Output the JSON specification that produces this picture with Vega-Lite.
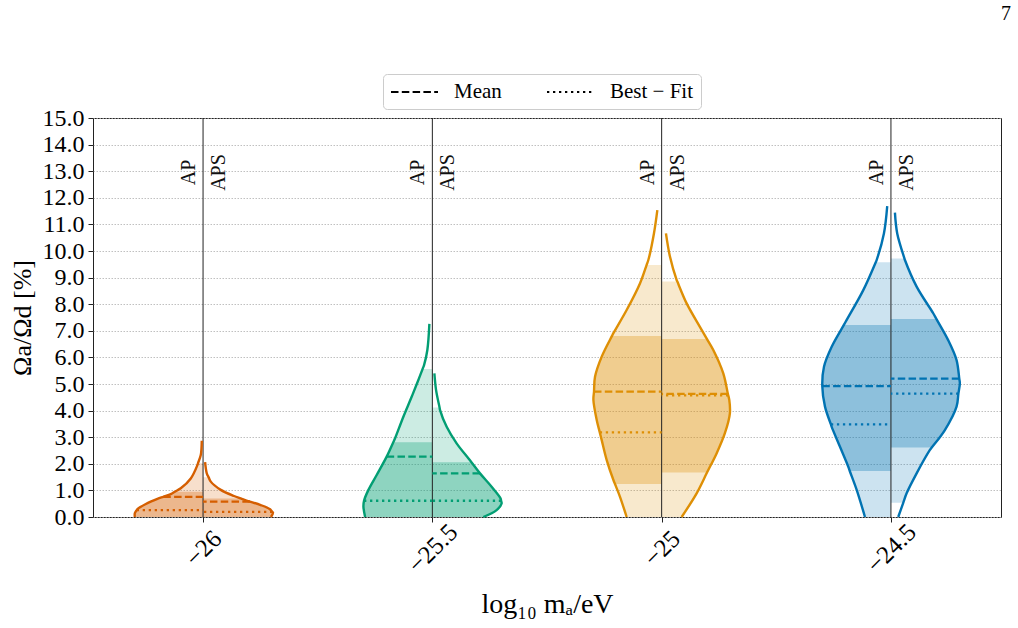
{
  "$schema": "https://vega.github.io/schema/vega-lite/v6.json",
  "width": 908,
  "height": 399,
  "autosize": "none",
  "padding": {"left": 93, "top": 118, "right": 17, "bottom": 111},
  "background": "white",
  "title": {"text": "7", "anchor": "end", "orient": "top", "frame": "group", "font": "Liberation Serif", "fontSize": 20, "fontWeight": "normal", "color": "#000", "offset": 50, "dx": 10},
  "config": {
    "font": "Liberation Serif",
    "view": {"stroke": "#222", "strokeWidth": 1},
    "axis": {"labelFont": "Liberation Serif", "titleFont": "Liberation Serif", "labelColor": "#000", "titleColor": "#000", "tickColor": "#222", "domain": false, "titleFontWeight": "normal", "tickSize": 5, "labelOverlap": false},
    "axisY": {"labelFontSize": 24, "labelPadding": 4, "grid": true, "gridColor": "#b0b0b0", "gridDash": [1.5, 1.5], "gridWidth": 0.8, "titleFontSize": 26, "titleX": -71, "titleBaseline": "middle"},
    "axisX": {"labelAngle": -45, "labelAlign": "center", "labelBaseline": "middle", "labelFontSize": 25, "labelPadding": 26, "grid": false, "labelFlush": false, "titleFontSize": 28, "titleY": 95, "titleBaseline": "alphabetic"}
  },
  "datasets": {
    "outline": [
      {"g": "-26 AP", "m": -26, "b": 2, "y": 0, "x": -26.1488},
      {"g": "-26 AP", "m": -26, "b": 2, "y": 0.14, "x": -26.1488},
      {"g": "-26 AP", "m": -26, "b": 2, "y": 0.26, "x": -26.1447},
      {"g": "-26 AP", "m": -26, "b": 2, "y": 0.30, "x": -26.1431},
      {"g": "-26 AP", "m": -26, "b": 2, "y": 0.49, "x": -26.1248},
      {"g": "-26 AP", "m": -26, "b": 2, "y": 0.68, "x": -26.0996},
      {"g": "-26 AP", "m": -26, "b": 2, "y": 0.76, "x": -26.0867},
      {"g": "-26 AP", "m": -26, "b": 2, "y": 0.86, "x": -26.0704},
      {"g": "-26 AP", "m": -26, "b": 2, "y": 0.95, "x": -26.0614},
      {"g": "-26 AP", "m": -26, "b": 1, "y": 1.08, "x": -26.0486},
      {"g": "-26 AP", "m": -26, "b": 1, "y": 1.45, "x": -26.0268},
      {"g": "-26 AP", "m": -26, "b": 1, "y": 1.95, "x": -26.0124},
      {"g": "-26 AP", "m": -26, "b": 1, "y": 2.02, "x": -26.0111},
      {"g": "-26 AP", "m": -26, "b": 0, "y": 2.33, "x": -26.0050},
      {"g": "-26 AP", "m": -26, "b": 0, "y": 2.87, "x": -26.0028},

      {"g": "-26 APS", "m": -26, "b": 2, "y": 0, "x": -25.8519},
      {"g": "-26 APS", "m": -26, "b": 2, "y": 0.16, "x": -25.8475},
      {"g": "-26 APS", "m": -26, "b": 2, "y": 0.19, "x": -25.8490},
      {"g": "-26 APS", "m": -26, "b": 2, "y": 0.30, "x": -25.8547},
      {"g": "-26 APS", "m": -26, "b": 2, "y": 0.45, "x": -25.8743},
      {"g": "-26 APS", "m": -26, "b": 2, "y": 0.58, "x": -25.8980},
      {"g": "-26 APS", "m": -26, "b": 2, "y": 0.61, "x": -25.9035},
      {"g": "-26 APS", "m": -26, "b": 2, "y": 0.70, "x": -25.9179},
      {"g": "-26 APS", "m": -26, "b": 1, "y": 0.79, "x": -25.9325},
      {"g": "-26 APS", "m": -26, "b": 1, "y": 1.02, "x": -25.9614},
      {"g": "-26 APS", "m": -26, "b": 1, "y": 1.33, "x": -25.9832},
      {"g": "-26 APS", "m": -26, "b": 1, "y": 1.49, "x": -25.9878},
      {"g": "-26 APS", "m": -26, "b": 0, "y": 1.64, "x": -25.9919},
      {"g": "-26 APS", "m": -26, "b": 0, "y": 2.06, "x": -25.9956},

      {"g": "-25.5 AP", "m": -25.5, "b": 2, "y": 0, "x": -25.6466},
      {"g": "-25.5 AP", "m": -25.5, "b": 2, "y": 0.39, "x": -25.6503},
      {"g": "-25.5 AP", "m": -25.5, "b": 2, "y": 0.61, "x": -25.6490},
      {"g": "-25.5 AP", "m": -25.5, "b": 2, "y": 1.02, "x": -25.6394},
      {"g": "-25.5 AP", "m": -25.5, "b": 2, "y": 1.58, "x": -25.6214},
      {"g": "-25.5 AP", "m": -25.5, "b": 2, "y": 2.27, "x": -25.5996},
      {"g": "-25.5 AP", "m": -25.5, "b": 2, "y": 2.81, "x": -25.5852},
      {"g": "-25.5 AP", "m": -25.5, "b": 1, "y": 2.96, "x": -25.5813},
      {"g": "-25.5 AP", "m": -25.5, "b": 1, "y": 3.77, "x": -25.5632},
      {"g": "-25.5 AP", "m": -25.5, "b": 1, "y": 4.52, "x": -25.5451},
      {"g": "-25.5 AP", "m": -25.5, "b": 1, "y": 5.15, "x": -25.5305},
      {"g": "-25.5 AP", "m": -25.5, "b": 1, "y": 5.56, "x": -25.5214},
      {"g": "-25.5 AP", "m": -25.5, "b": 0, "y": 5.71, "x": -25.5181},
      {"g": "-25.5 AP", "m": -25.5, "b": 0, "y": 6.28, "x": -25.5109},
      {"g": "-25.5 AP", "m": -25.5, "b": 0, "y": 7.26, "x": -25.5065},

      {"g": "-25.5 APS", "m": -25.5, "b": 2, "y": 0, "x": -25.3889},
      {"g": "-25.5 APS", "m": -25.5, "b": 2, "y": 0.26, "x": -25.3599},
      {"g": "-25.5 APS", "m": -25.5, "b": 2, "y": 0.51, "x": -25.3490},
      {"g": "-25.5 APS", "m": -25.5, "b": 2, "y": 0.61, "x": -25.3501},
      {"g": "-25.5 APS", "m": -25.5, "b": 2, "y": 0.70, "x": -25.3512},
      {"g": "-25.5 APS", "m": -25.5, "b": 2, "y": 1.14, "x": -25.3708},
      {"g": "-25.5 APS", "m": -25.5, "b": 2, "y": 1.64, "x": -25.3961},
      {"g": "-25.5 APS", "m": -25.5, "b": 2, "y": 2.06, "x": -25.4148},
      {"g": "-25.5 APS", "m": -25.5, "b": 1, "y": 2.21, "x": -25.4216},
      {"g": "-25.5 APS", "m": -25.5, "b": 1, "y": 2.77, "x": -25.4471},
      {"g": "-25.5 APS", "m": -25.5, "b": 1, "y": 3.39, "x": -25.4688},
      {"g": "-25.5 APS", "m": -25.5, "b": 1, "y": 4.02, "x": -25.4832},
      {"g": "-25.5 APS", "m": -25.5, "b": 1, "y": 4.12, "x": -25.4843},
      {"g": "-25.5 APS", "m": -25.5, "b": 0, "y": 4.77, "x": -25.4919},
      {"g": "-25.5 APS", "m": -25.5, "b": 0, "y": 5.40, "x": -25.4956},

      {"g": "-25 AP", "m": -25, "b": 1, "y": 0, "x": -25.0763},
      {"g": "-25 AP", "m": -25, "b": 1, "y": 0.76, "x": -25.0908},
      {"g": "-25 AP", "m": -25, "b": 2, "y": 1.24, "x": -25.1017},
      {"g": "-25 AP", "m": -25, "b": 2, "y": 1.39, "x": -25.1052},
      {"g": "-25 AP", "m": -25, "b": 2, "y": 2.14, "x": -25.1198},
      {"g": "-25 AP", "m": -25, "b": 2, "y": 2.89, "x": -25.1307},
      {"g": "-25 AP", "m": -25, "b": 2, "y": 3.18, "x": -25.1349},
      {"g": "-25 AP", "m": -25, "b": 2, "y": 3.65, "x": -25.1416},
      {"g": "-25 AP", "m": -25, "b": 2, "y": 4.40, "x": -25.1488},
      {"g": "-25 AP", "m": -25, "b": 2, "y": 4.71, "x": -25.1475},
      {"g": "-25 AP", "m": -25, "b": 2, "y": 5.27, "x": -25.1453},
      {"g": "-25 AP", "m": -25, "b": 2, "y": 6.03, "x": -25.1307},
      {"g": "-25 AP", "m": -25, "b": 2, "y": 6.80, "x": -25.1085},
      {"g": "-25 AP", "m": -25, "b": 1, "y": 6.91, "x": -25.1052},
      {"g": "-25 AP", "m": -25, "b": 1, "y": 7.78, "x": -25.0763},
      {"g": "-25 AP", "m": -25, "b": 1, "y": 8.78, "x": -25.0473},
      {"g": "-25 AP", "m": -25, "b": 1, "y": 9.47, "x": -25.0329},
      {"g": "-25 AP", "m": -25, "b": 0, "y": 9.66, "x": -25.0290},
      {"g": "-25 AP", "m": -25, "b": 0, "y": 10.66, "x": -25.0168},
      {"g": "-25 AP", "m": -25, "b": 0, "y": 11.54, "x": -25.0094},

      {"g": "-25 APS", "m": -25, "b": 1, "y": 0, "x": -24.9564},
      {"g": "-25 APS", "m": -25, "b": 1, "y": 0.89, "x": -24.9237},
      {"g": "-25 APS", "m": -25, "b": 2, "y": 1.67, "x": -24.9011},
      {"g": "-25 APS", "m": -25, "b": 2, "y": 2.39, "x": -24.8802},
      {"g": "-25 APS", "m": -25, "b": 2, "y": 3.15, "x": -24.8621},
      {"g": "-25 APS", "m": -25, "b": 2, "y": 3.90, "x": -24.8512},
      {"g": "-25 APS", "m": -25, "b": 2, "y": 4.40, "x": -24.8525},
      {"g": "-25 APS", "m": -25, "b": 2, "y": 4.57, "x": -24.8547},
      {"g": "-25 APS", "m": -25, "b": 2, "y": 4.63, "x": -24.8556},
      {"g": "-25 APS", "m": -25, "b": 2, "y": 5.40, "x": -24.8656},
      {"g": "-25 APS", "m": -25, "b": 2, "y": 6.28, "x": -24.8874},
      {"g": "-25 APS", "m": -25, "b": 2, "y": 6.69, "x": -24.9011},
      {"g": "-25 APS", "m": -25, "b": 1, "y": 7.15, "x": -24.9166},
      {"g": "-25 APS", "m": -25, "b": 1, "y": 8.03, "x": -24.9455},
      {"g": "-25 APS", "m": -25, "b": 1, "y": 8.85, "x": -24.9658},
      {"g": "-25 APS", "m": -25, "b": 0, "y": 8.91, "x": -24.9673},
      {"g": "-25 APS", "m": -25, "b": 0, "y": 9.79, "x": -24.9819},
      {"g": "-25 APS", "m": -25, "b": 0, "y": 10.66, "x": -24.9906},

      {"g": "-24.5 AP", "m": -24.5, "b": 1, "y": 0, "x": -24.5566},
      {"g": "-24.5 AP", "m": -24.5, "b": 1, "y": 1.02, "x": -24.5747},
      {"g": "-24.5 AP", "m": -24.5, "b": 2, "y": 1.73, "x": -24.5898},
      {"g": "-24.5 AP", "m": -24.5, "b": 2, "y": 1.89, "x": -24.5930},
      {"g": "-24.5 AP", "m": -24.5, "b": 2, "y": 2.64, "x": -24.6111},
      {"g": "-24.5 AP", "m": -24.5, "b": 2, "y": 3.39, "x": -24.6292},
      {"g": "-24.5 AP", "m": -24.5, "b": 2, "y": 3.48, "x": -24.6309},
      {"g": "-24.5 AP", "m": -24.5, "b": 2, "y": 4.15, "x": -24.6438},
      {"g": "-24.5 AP", "m": -24.5, "b": 2, "y": 4.92, "x": -24.6497},
      {"g": "-24.5 AP", "m": -24.5, "b": 2, "y": 5.65, "x": -24.6460},
      {"g": "-24.5 AP", "m": -24.5, "b": 2, "y": 6.40, "x": -24.6292},
      {"g": "-24.5 AP", "m": -24.5, "b": 2, "y": 7.22, "x": -24.6026},
      {"g": "-24.5 AP", "m": -24.5, "b": 1, "y": 7.41, "x": -24.5965},
      {"g": "-24.5 AP", "m": -24.5, "b": 1, "y": 8.53, "x": -24.5603},
      {"g": "-24.5 AP", "m": -24.5, "b": 1, "y": 9.58, "x": -24.5331},
      {"g": "-24.5 AP", "m": -24.5, "b": 0, "y": 9.66, "x": -24.5312},
      {"g": "-24.5 AP", "m": -24.5, "b": 0, "y": 10.66, "x": -24.5153},
      {"g": "-24.5 AP", "m": -24.5, "b": 0, "y": 11.69, "x": -24.5081},

      {"g": "-24.5 APS", "m": -24.5, "b": 0, "y": 0, "x": -24.4841},
      {"g": "-24.5 APS", "m": -24.5, "b": 1, "y": 0.54, "x": -24.4730},
      {"g": "-24.5 APS", "m": -24.5, "b": 1, "y": 0.89, "x": -24.4658},
      {"g": "-24.5 APS", "m": -24.5, "b": 1, "y": 1.64, "x": -24.4440},
      {"g": "-24.5 APS", "m": -24.5, "b": 1, "y": 2.52, "x": -24.4150},
      {"g": "-24.5 APS", "m": -24.5, "b": 2, "y": 2.61, "x": -24.4111},
      {"g": "-24.5 APS", "m": -24.5, "b": 2, "y": 3.27, "x": -24.3824},
      {"g": "-24.5 APS", "m": -24.5, "b": 2, "y": 4.15, "x": -24.3569},
      {"g": "-24.5 APS", "m": -24.5, "b": 2, "y": 4.64, "x": -24.3529},
      {"g": "-24.5 APS", "m": -24.5, "b": 2, "y": 5.03, "x": -24.3497},
      {"g": "-24.5 APS", "m": -24.5, "b": 2, "y": 5.20, "x": -24.3510},
      {"g": "-24.5 APS", "m": -24.5, "b": 2, "y": 5.90, "x": -24.3569},
      {"g": "-24.5 APS", "m": -24.5, "b": 2, "y": 6.65, "x": -24.3752},
      {"g": "-24.5 APS", "m": -24.5, "b": 2, "y": 7.44, "x": -24.4007},
      {"g": "-24.5 APS", "m": -24.5, "b": 1, "y": 7.66, "x": -24.4078},
      {"g": "-24.5 APS", "m": -24.5, "b": 1, "y": 8.66, "x": -24.4440},
      {"g": "-24.5 APS", "m": -24.5, "b": 1, "y": 9.66, "x": -24.4695},
      {"g": "-24.5 APS", "m": -24.5, "b": 1, "y": 9.72, "x": -24.4706},
      {"g": "-24.5 APS", "m": -24.5, "b": 0, "y": 10.66, "x": -24.4863},
      {"g": "-24.5 APS", "m": -24.5, "b": 0, "y": 11.44, "x": -24.4913}
    ],
    "halves": [
      {"m": -26, "side": "AP"}, {"m": -26, "side": "APS"},
      {"m": -25.5, "side": "AP"}, {"m": -25.5, "side": "APS"},
      {"m": -25, "side": "AP"}, {"m": -25, "side": "APS"},
      {"m": -24.5, "side": "AP"}, {"m": -24.5, "side": "APS"}
    ],
    "stats": [
      {"g": "-26 AP", "m": -26, "stat": "Mean", "y": 0.76, "x": -26.0867},
      {"g": "-26 AP", "m": -26, "stat": "Best − Fit", "y": 0.26, "x": -26.1447},
      {"g": "-26 APS", "m": -26, "stat": "Mean", "y": 0.58, "x": -25.8980},
      {"g": "-26 APS", "m": -26, "stat": "Best − Fit", "y": 0.19, "x": -25.8490},
      {"g": "-25.5 AP", "m": -25.5, "stat": "Mean", "y": 2.27, "x": -25.5996},
      {"g": "-25.5 AP", "m": -25.5, "stat": "Best − Fit", "y": 0.61, "x": -25.6490},
      {"g": "-25.5 APS", "m": -25.5, "stat": "Mean", "y": 1.64, "x": -25.3961},
      {"g": "-25.5 APS", "m": -25.5, "stat": "Best − Fit", "y": 0.61, "x": -25.3501},
      {"g": "-25 AP", "m": -25, "stat": "Mean", "y": 4.71, "x": -25.1475},
      {"g": "-25 AP", "m": -25, "stat": "Best − Fit", "y": 3.18, "x": -25.1349},
      {"g": "-25 APS", "m": -25, "stat": "Mean", "y": 4.63, "x": -24.8556},
      {"g": "-25 APS", "m": -25, "stat": "Best − Fit", "y": 4.57, "x": -24.8547},
      {"g": "-24.5 AP", "m": -24.5, "stat": "Mean", "y": 4.92, "x": -24.6497},
      {"g": "-24.5 AP", "m": -24.5, "stat": "Best − Fit", "y": 3.48, "x": -24.6309},
      {"g": "-24.5 APS", "m": -24.5, "stat": "Mean", "y": 5.20, "x": -24.3510},
      {"g": "-24.5 APS", "m": -24.5, "stat": "Best − Fit", "y": 4.64, "x": -24.3529}
    ],
    "centers": [{"m": -26}, {"m": -25.5}, {"m": -25}, {"m": -24.5}]
  },
  "layer": [
    {
      "data": {"name": "outline"},
      "transform": [{"filter": "datum.b >= 1"}],
      "mark": {"type": "area", "orient": "horizontal", "interpolate": "catmull-rom", "opacity": 0.2},
      "encoding": {
        "y": {"field": "y", "type": "quantitative", "scale": {"domain": [0, 15]},
          "axis": {"values": [0,1,2,3,4,5,6,7,8,9,10,11,12,13,14,15], "format": ".1f", "title": "Ωa/Ωd [%]"}},
        "x": {"field": "x", "type": "quantitative", "stack": null, "scale": {"domain": [-26.24, -24.26]},
          "axis": {"values": [-26, -25.5, -25, -24.5], "format": "~g", "title": "log₁₀ mₐ/eV"}},
        "x2": {"field": "m"},
        "detail": {"field": "g", "type": "nominal"},
        "color": {"field": "m", "type": "nominal", "scale": {"domain": [-26, -25.5, -25, -24.5], "range": ["#d55e00", "#029e73", "#de8f05", "#0173b2"]}, "legend": null}
      }
    },
    {
      "data": {"name": "outline"},
      "transform": [{"filter": "datum.b == 2"}],
      "mark": {"type": "area", "orient": "horizontal", "interpolate": "catmull-rom", "opacity": 0.31},
      "encoding": {
        "y": {"field": "y", "type": "quantitative", "scale": {"domain": [0, 15]},
          "axis": {"values": [0,1,2,3,4,5,6,7,8,9,10,11,12,13,14,15], "format": ".1f", "title": "Ωa/Ωd [%]"}},
        "x": {"field": "x", "type": "quantitative", "stack": null, "scale": {"domain": [-26.24, -24.26]},
          "axis": {"values": [-26, -25.5, -25, -24.5], "format": "~g", "title": "log₁₀ mₐ/eV"}},
        "x2": {"field": "m"},
        "detail": {"field": "g", "type": "nominal"},
        "color": {"field": "m", "type": "nominal", "scale": {"domain": [-26, -25.5, -25, -24.5], "range": ["#d55e00", "#029e73", "#de8f05", "#0173b2"]}, "legend": null}
      }
    },
    {
      "data": {"name": "centers"},
      "mark": {"type": "rule", "color": "#222", "strokeWidth": 1},
      "encoding": {
        "x": {"field": "m", "type": "quantitative", "scale": {"domain": [-26.24, -24.26]},
          "axis": {"values": [-26, -25.5, -25, -24.5], "format": "~g", "title": "log₁₀ mₐ/eV"}}
      }
    },
    {
      "data": {"name": "stats"},
      "mark": {"type": "rule", "strokeWidth": 2.3, "strokeCap": "butt"},
      "encoding": {
        "y": {"field": "y", "type": "quantitative", "scale": {"domain": [0, 15]},
          "axis": {"values": [0,1,2,3,4,5,6,7,8,9,10,11,12,13,14,15], "format": ".1f", "title": "Ωa/Ωd [%]"}},
        "x": {"field": "x", "type": "quantitative", "scale": {"domain": [-26.24, -24.26]},
          "axis": {"values": [-26, -25.5, -25, -24.5], "format": "~g", "title": "log₁₀ mₐ/eV"}},
        "x2": {"field": "m"},
        "color": {"field": "m", "type": "nominal", "scale": {"domain": [-26, -25.5, -25, -24.5], "range": ["#d55e00", "#029e73", "#de8f05", "#0173b2"]}, "legend": null},
        "strokeDash": {"field": "stat", "type": "nominal",
          "scale": {"domain": ["Mean", "Best − Fit"], "range": [[7.5, 3.3], [2.3, 3.7]]},
          "legend": {"orient": "none", "legendX": 290, "legendY": -44, "direction": "horizontal", "title": null,
            "symbolType": "M-1,0H3.7", "symbolSize": 400, "symbolStrokeWidth": 2, "symbolStrokeColor": "#000", "symbolFillColor": "transparent",
            "labelFont": "Liberation Serif", "labelFontSize": 21, "labelColor": "#000", "labelOffset": 42, "columnPadding": 41,
            "padding": 7, "strokeColor": "#cccccc", "cornerRadius": 4, "fillColor": "white"}}
      }
    },
    {
      "data": {"name": "outline"},
      "mark": {"type": "line", "interpolate": "catmull-rom", "strokeWidth": 2.4},
      "encoding": {
        "y": {"field": "y", "type": "quantitative", "scale": {"domain": [0, 15]},
          "axis": {"values": [0,1,2,3,4,5,6,7,8,9,10,11,12,13,14,15], "format": ".1f", "title": "Ωa/Ωd [%]"}},
        "x": {"field": "x", "type": "quantitative", "scale": {"domain": [-26.24, -24.26]},
          "axis": {"values": [-26, -25.5, -25, -24.5], "format": "~g", "title": "log₁₀ mₐ/eV"}},
        "order": {"field": "y", "type": "quantitative"},
        "detail": {"field": "g", "type": "nominal"},
        "color": {"field": "m", "type": "nominal", "scale": {"domain": [-26, -25.5, -25, -24.5], "range": ["#d55e00", "#029e73", "#de8f05", "#0173b2"]}, "legend": null}
      }
    },
    {
      "data": {"name": "halves"},
      "transform": [{"filter": "datum.side == 'AP'"}],
      "mark": {"type": "text", "angle": 270, "align": "center", "baseline": "alphabetic", "dy": -8, "font": "Liberation Serif", "fontSize": 20, "color": "#111"},
      "encoding": {
        "x": {"field": "m", "type": "quantitative", "scale": {"domain": [-26.24, -24.26]},
          "axis": {"values": [-26, -25.5, -25, -24.5], "format": "~g", "title": "log₁₀ mₐ/eV"}},
        "y": {"datum": 12.95, "type": "quantitative", "scale": {"domain": [0, 15]},
          "axis": {"values": [0,1,2,3,4,5,6,7,8,9,10,11,12,13,14,15], "format": ".1f", "title": "Ωa/Ωd [%]"}},
        "text": {"field": "side"}
      }
    },
    {
      "data": {"name": "halves"},
      "transform": [{"filter": "datum.side == 'APS'"}],
      "mark": {"type": "text", "angle": 270, "align": "center", "baseline": "alphabetic", "dy": 22, "font": "Liberation Serif", "fontSize": 20, "color": "#111"},
      "encoding": {
        "x": {"field": "m", "type": "quantitative", "scale": {"domain": [-26.24, -24.26]},
          "axis": {"values": [-26, -25.5, -25, -24.5], "format": "~g", "title": "log₁₀ mₐ/eV"}},
        "y": {"datum": 12.95, "type": "quantitative", "scale": {"domain": [0, 15]},
          "axis": {"values": [0,1,2,3,4,5,6,7,8,9,10,11,12,13,14,15], "format": ".1f", "title": "Ωa/Ωd [%]"}},
        "text": {"field": "side"}
      }
    }
  ]
}
